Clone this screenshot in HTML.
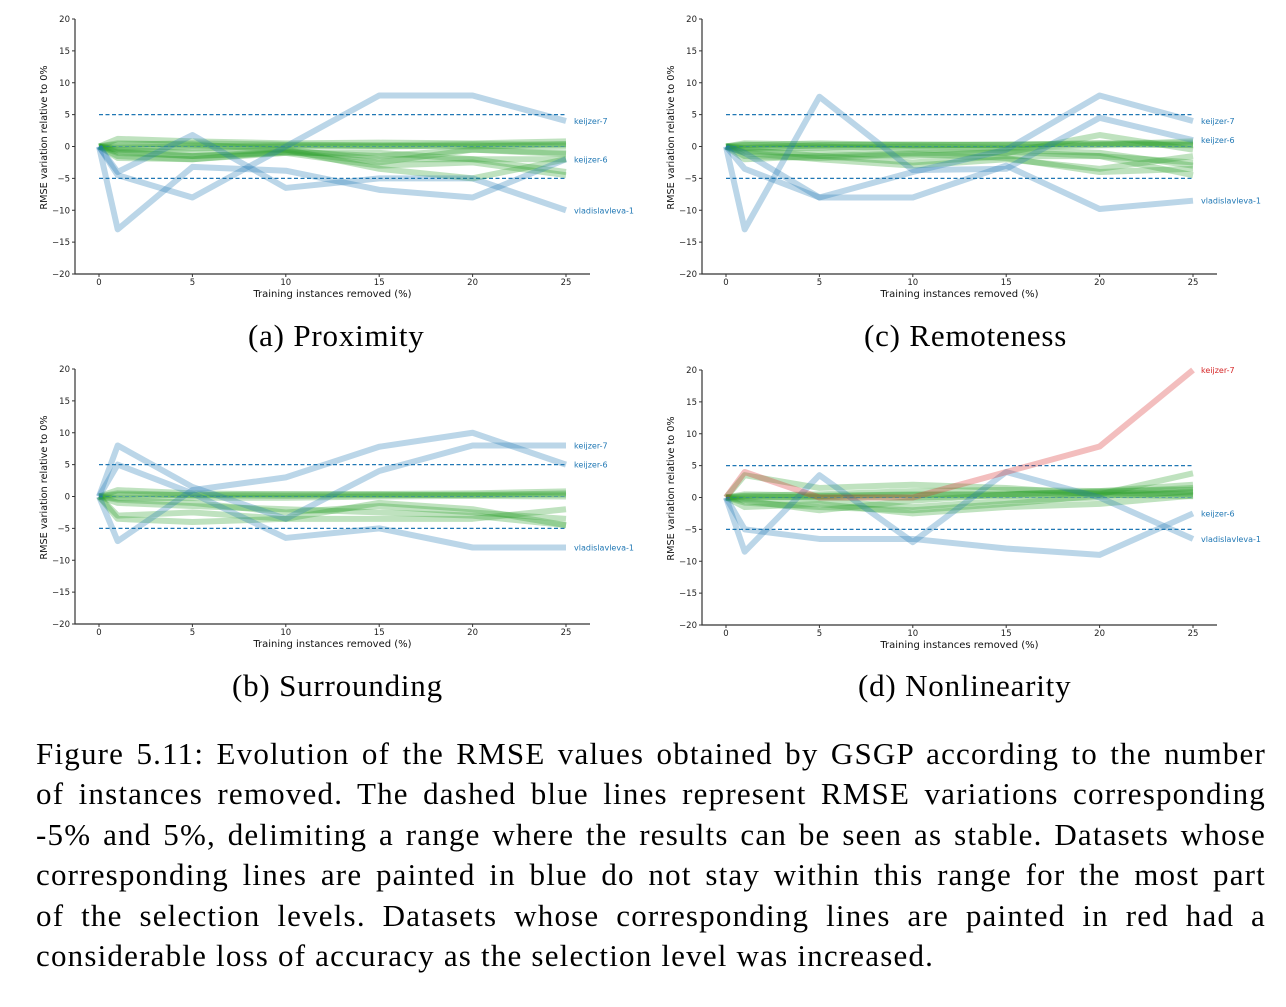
<!DOCTYPE html>
<html><head><meta charset="utf-8">
<style>
body{margin:0;background:#fff;width:1286px;height:1007px;overflow:hidden;position:relative;font-family:"Liberation Serif",serif}
svg{position:absolute;left:0;top:0}
.sub{position:absolute;font-size:31px;letter-spacing:0.8px;color:#000;white-space:nowrap}
#cap{position:absolute;left:36px;top:734px;width:1230px;font-size:31px;line-height:40.4px;color:#000;letter-spacing:1.2px}
#cap div{text-align:justify;text-align-last:justify;white-space:nowrap;height:40.4px}
#cap div.last{text-align-last:left}
</style></head><body>
<svg id="fig" width="1286" height="720" xmlns="http://www.w3.org/2000/svg"></svg>
<div class="sub" style="left:248px;top:318px">(a) Proximity</div>
<div class="sub" style="left:864px;top:318px">(c) Remoteness</div>
<div class="sub" style="left:232px;top:668px">(b) Surrounding</div>
<div class="sub" style="left:858px;top:668px">(d) Nonlinearity</div>
<div id="cap">
<div style="white-space:normal">Figure 5.11: Evolution of the RMSE values obtained by GSGP according to the number</div>
<div style="white-space:normal">of instances removed. The dashed blue lines represent RMSE variations corresponding</div>
<div style="white-space:normal">-5% and 5%, delimiting a range where the results can be seen as stable. Datasets whose</div>
<div style="white-space:normal">corresponding lines are painted in blue do not stay within this range for the most part</div>
<div style="white-space:normal">of the selection levels. Datasets whose corresponding lines are painted in red had a</div>
<div class="last" style="white-space:normal">considerable loss of accuracy as the selection level was increased.</div>
</div>
<script>
const xCats=[0,1,5,10,15,20,25];
const xTicks=[0,5,10,15,20,25];
const yTicks=[-20,-15,-10,-5,0,5,10,15,20];
const greenA=[[0,1.2,0.8,0.5,0.6,0.5,0.8],[0,0.3,0.5,0.3,0.2,0.4,0.3],[0,-0.5,-0.3,0,0,0.2,0],[0,-1,-1.5,-0.8,-1.5,-0.5,-1],[0,-1.5,-2,-1,-3,-2.5,-4.5],[0,-0.5,-1,-0.5,-2,-2,-2],[0,0.5,0.3,-0.5,-3.5,-5,-2],[0,-0.2,0,0.2,0.1,0,0.4],[0,-1.8,-2,-0.8,-2.5,-0.5,-1.2],[0,-0.8,-1.5,-1,-1,-2,-4]];
const blueA=[[0,-4.5,-8,0,8,8,4],[0,-13,-3.2,-3.8,-6.8,-8,-2],[0,-4,1.8,-6.5,-5,-5,-10]];
const labA=['keijzer-7','keijzer-6','vladislavleva-1'];
const greenC=[[0,0.5,0.3,0.3,0.2,0.3,0.8],[0,0.2,0.5,0.2,0.3,0.5,0.5],[0,-0.3,-0.2,0,-0.2,0.2,0.3],[0,-2,-1.5,-1,-1,1.8,-0.5],[0,-1,-2,-3,-2,-3.5,-1.5],[0,-0.5,-1.5,-2.5,-1.5,-1.5,-4.5],[0,-0.8,-1,-1.5,-0.8,-1.5,-2.5],[0,0.3,0,-0.5,-0.5,-1,-3],[0,-1.5,-1.8,-1.2,-1.8,-4,-3.5],[0,-0.2,0.2,0.3,0.3,0.5,0.2]];
const blueC=[[0,-3.5,-8,-4,-0.5,8,4],[0,-13,7.8,-3.7,-3.5,4.5,1],[0,-1,-8,-8,-3,-9.8,-8.5]];
const labC=['keijzer-7','keijzer-6','vladislavleva-1'];
const greenB=[[0,1,0.5,0.3,0.4,0.5,0.8],[0,0.3,0.2,0.1,0.2,0.3,0.3],[0,-0.3,-0.2,-0.2,0,0.1,0],[0,-3,-2.5,-3.5,-1,-2,-4.5],[0,-3.5,-4,-3.5,-3.5,-3.5,-2],[0,-0.5,-1,-2.5,-1.5,-2.5,-3.5],[0,-1,-1.5,-2,-2.5,-3,-4.5],[0,0.5,0.2,0.4,0.3,0.2,0.5]];
const blueB=[[0,8,1.5,-3.5,4,8,8],[0,-7,1,3,7.8,10,5],[0,5,0.5,-6.5,-5,-8,-8]];
const labB=['keijzer-7','keijzer-6','vladislavleva-1'];
const greenD=[[0,3.5,1.5,2,1.5,0.5,3.8],[0,0.3,0.5,1,1.2,1,2],[0,0,0.2,0.5,0.5,0.8,1.5],[0,-0.5,-2,-0.5,0.5,0.8,0.5],[0,-1.5,-1,-2.5,-1.5,-1,0.3],[0,-0.3,-0.5,-1.5,-0.5,0,1],[0,0.2,0,0,0.3,0.5,0.2],[0,-0.8,-1.5,-2,-1,0.3,0.8],[0,0.5,0.3,0.4,0.5,1,1.2]];
const blueD=[[0,-8.5,3.5,-7,4,0,-6.5],[0,-5,-6.5,-6.5,-8,-9,-2.5]];
const redD=[0,4,0,0,4,8,20];
const labBlueD=['vladislavleva-1','keijzer-6'];
const labRedD='keijzer-7';

const NS='http://www.w3.org/2000/svg';
const svg=document.getElementById('fig');
function mk(t,a,p){const e=document.createElementNS(NS,t);for(const k in a)e.setAttribute(k,a[k]);(p||svg).appendChild(e);return e;}
function panel(id,ox,oy,greens,blues,labs,red,redLab){
  const g=mk('g',{});
  
  
  const x0=ox+24,x25=ox+491,yTop=oy,yBot=oy+255;
  const X=v=>x0+(v/25)*(x25-x0);
  const Y=v=>yBot-(v+20)/40*(yBot-yTop);
  const spineX=ox,right=ox+515;
  const ax=mk('path',{d:`M${spineX} ${yTop}V${yBot}H${right}`,stroke:'#333',fill:'none','stroke-width':1.2},g);
  
  
  yTicks.forEach(t=>{mk('line',{x1:spineX-3,x2:spineX,y1:Y(t),y2:Y(t),stroke:'#333'},g);
    const tx=mk('text',{x:spineX-5,y:Y(t)+3,'text-anchor':'end','font-size':8.5,'font-family':'DejaVu Sans',fill:'#222'},g);tx.textContent=(t<0?'\u2212'+(-t):t);
    
    });
  xTicks.forEach(t=>{mk('line',{x1:X(t),x2:X(t),y1:yBot,y2:yBot+3,stroke:'#333'},g);
    const tx=mk('text',{x:X(t),y:yBot+11,'text-anchor':'middle','font-size':8.5,'font-family':'DejaVu Sans',fill:'#222'},g);tx.textContent=t;
    
    });
  const xl=mk('text',{x:(x0+x25)/2,y:yBot+23,'text-anchor':'middle','font-size':10,'font-family':'DejaVu Sans',fill:'#111'},g);xl.textContent='Training instances removed (%)';
  
  
  const yl=mk('text',{x:0,y:0,transform:`translate(${ox-28},${(yTop+yBot)/2-9}) rotate(-90)`,'text-anchor':'middle','font-size':9.7,'font-family':'DejaVu Sans',fill:'#111'},g);yl.textContent='RMSE variation relative to 0%';
  
  
  const pts=s=>s.map((v,i)=>X(xCats[i])+','+Y(v)).join(' ');
  [5,-5].forEach(v=>{const l=mk('line',{x1:X(0),x2:X(25),y1:Y(v),y2:Y(v),stroke:'#1f77b4','stroke-width':1.2,'stroke-dasharray':'4,2.5'},g);
    
    });
  greens.forEach(s=>{const l=mk('polyline',{points:pts(s),fill:'none',stroke:'#2ca02c','stroke-width':6,'stroke-opacity':0.3,'stroke-linejoin':'round'},g);
    
    });
  blues.forEach((s,i)=>{const l=mk('polyline',{points:pts(s),fill:'none',stroke:'#1f77b4','stroke-width':6,'stroke-opacity':0.3,'stroke-linejoin':'round'},g);
    
    
    const t=mk('text',{x:X(25)+8,y:Y(s[s.length-1])+3,'font-size':8,'font-family':'DejaVu Sans',fill:'#1f77b4'},g);t.textContent=labs[i];
    
    });
  if(red){const l=mk('polyline',{points:pts(red),fill:'none',stroke:'#d62728','stroke-width':6,'stroke-opacity':0.3,'stroke-linejoin':'round'},g);
    
    
    const t=mk('text',{x:X(25)+8,y:Y(red[red.length-1])+3,'font-size':8,'font-family':'DejaVu Sans',fill:'#d62728'},g);t.textContent=redLab;
    
    }
  const z=mk('line',{x1:X(0),x2:X(25),y1:Y(0),y2:Y(0),stroke:'#1f77b4','stroke-width':0.8,'stroke-dasharray':'4,2.5','stroke-opacity':0.6},g);
  
  
}
panel('a',75,19,greenA,blueA,labA);
panel('c',702,19,greenC,blueC,labC);
panel('b',75,369,greenB,blueB,labB);
panel('d',702,370,greenD,blueD,labBlueD,redD,labRedD);
</script>
</body></html>
